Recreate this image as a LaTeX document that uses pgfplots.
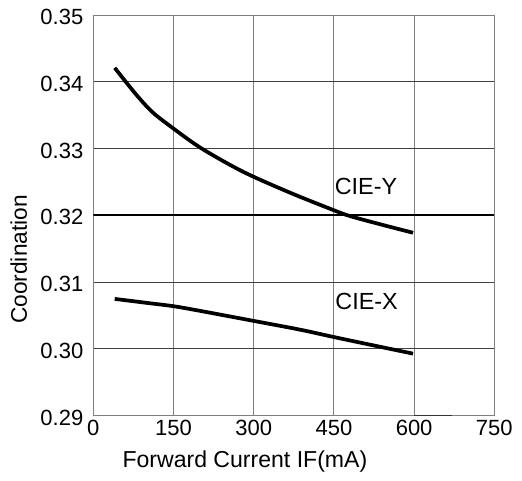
\documentclass[border=0pt]{standalone}
\usepackage{fontspec}
\setmainfont{Liberation Sans}
\usepackage{pgfplots}
\pgfplotsset{compat=1.18}
\begin{document}
\begin{tikzpicture}
\useasboundingbox (-70pt,-48.2pt) rectangle (321.5pt,311.8pt);
\begin{axis}[
  at={(0,0)}, anchor=south west,
  scale only axis, width=300.75pt, height=300.5pt,
  xmin=0, xmax=750, ymin=0.29, ymax=0.35,
  xtick={0,150,300,450,600,750},
  ytick={0.29,0.30,0.31,0.32,0.33,0.34,0.35},
  major tick length=0pt,
  grid=major,
  x grid style={gray, line width=0.8pt},
  y grid style={black!75, line width=0.8pt},
  axis line style={gray, line width=0.8pt},
  font=\fontsize{16.5}{19}\selectfont,
  /pgf/number format/assume math mode=true,
  yticklabel style={xshift=-4pt, yshift=-1.5pt, /pgf/number format/.cd, fixed, fixed zerofill, precision=2},
  xticklabel style={/pgf/number format/.cd, fixed},
  scaled y ticks=false,
  xlabel={Forward Current IF(mA)},
  ylabel={Coordination},
  xlabel style={at={(axis description cs:0.378,0)}, anchor=center, yshift=-34pt, font=\fontsize{17.3}{20}\selectfont},
  ylabel style={at={(axis description cs:-0.186,0.39)}, anchor=center, font=\fontsize{17}{20}\selectfont},
]
\addplot[black, line width=1.5pt] coordinates {(0,0.32)(750,0.32)};
\addplot[black!80, line width=1.2pt] coordinates {(600,0.29)(670,0.29)};
\addplot[black, line width=2.8pt, smooth] coordinates {
(40,0.3421)(78,0.3383)(110,0.3355)(150,0.3330)(203,0.3300)(281,0.3265)(368,0.3234)(449,0.3208)(480,0.3199)(540,0.3186)(598,0.3174)};
\addplot[black, line width=2.8pt, smooth] coordinates {
(40,0.3075)(100,0.3069)(150,0.3064)(200,0.3057)(300,0.3042)(386,0.3029)(449,0.3018)(520,0.3006)(598,0.2993)};
\node[font=\fontsize{17.5}{20}\selectfont] at (axis cs:510,0.3243) {CIE-Y};
\node[font=\fontsize{17.5}{20}\selectfont] at (axis cs:511,0.3071) {CIE-X};
\end{axis}
\end{tikzpicture}
\end{document}
